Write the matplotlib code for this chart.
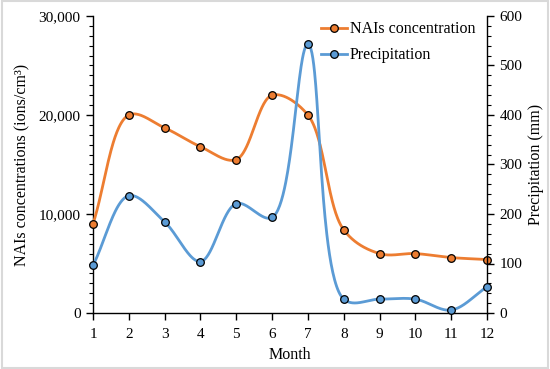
import numpy as np
import matplotlib
matplotlib.use("Agg")
import matplotlib.pyplot as plt
from matplotlib.ticker import MultipleLocator, FuncFormatter
from matplotlib.lines import Line2D

months = [1, 2, 3, 4, 5, 6, 7, 8, 9, 10, 11, 12]
nais = [9000, 20000, 18700, 16800, 15500, 22000, 20000, 8400, 6000, 6000, 5600, 5400]
precip = [96, 237, 184, 104, 221, 193, 543, 28, 28, 28, 6, 53]

ORANGE = "#ED7D31"
BLUE = "#5B9BD5"

plt.rcParams['font.family'] = ['Liberation Serif', 'DejaVu Serif']


def centripetal(x, y, sx, sy, n=60, alpha=0.5):
    """Centripetal Catmull-Rom through the points, computed in pixel-like space."""
    P = np.column_stack([np.asarray(x, float) * sx, np.asarray(y, float) * sy])
    P = np.vstack([2 * P[0] - P[1], P, 2 * P[-1] - P[-2]])
    out = []
    for i in range(1, len(P) - 2):
        p0, p1, p2, p3 = P[i - 1], P[i], P[i + 1], P[i + 2]
        t0 = 0.0
        t1 = t0 + max(np.linalg.norm(p1 - p0), 1e-9) ** alpha
        t2 = t1 + max(np.linalg.norm(p2 - p1), 1e-9) ** alpha
        t3 = t2 + max(np.linalg.norm(p3 - p2), 1e-9) ** alpha
        t = np.linspace(t1, t2, n, endpoint=False)[:, None]
        A1 = (t1 - t) / (t1 - t0) * p0 + (t - t0) / (t1 - t0) * p1
        A2 = (t2 - t) / (t2 - t1) * p1 + (t - t1) / (t2 - t1) * p2
        A3 = (t3 - t) / (t3 - t2) * p2 + (t - t2) / (t3 - t2) * p3
        B1 = (t2 - t) / (t2 - t0) * A1 + (t - t0) / (t2 - t0) * A2
        B2 = (t3 - t) / (t3 - t1) * A2 + (t - t1) / (t3 - t1) * A3
        C = (t2 - t) / (t2 - t1) * B1 + (t - t1) / (t2 - t1) * B2
        out.append(C)
    out.append(P[-2][None, :])
    C = np.vstack(out)
    return C[:, 0] / sx, C[:, 1] / sy


fig = plt.figure(figsize=(5.5, 3.69), dpi=100)
ax = fig.add_axes([93 / 550, 1 - 313 / 369, (487 - 93) / 550, (313 - 16) / 369])
ax2 = ax.twinx()

XS = 394 / 11.0
sx, sy = centripetal(months, nais, XS, 297 / 30000)
ax.plot(sx, sy, color=ORANGE, lw=2, zorder=3, clip_on=False)
ax.plot(months, nais, 'o', color=ORANGE, mec='black', mew=0.9, ms=5.5, zorder=4, clip_on=False)

px_, py_ = centripetal(months, precip, XS, 297 / 600)
ax2.plot(px_, py_, color=BLUE, lw=2, zorder=3, clip_on=False)
ax2.plot(months, precip, 'o', color=BLUE, mec='black', mew=0.9, ms=5.5, zorder=4, clip_on=False)

ax.set_xlim(1, 12)
ax.set_ylim(0, 30000)
ax2.set_ylim(0, 600)
ax.set_xticks(months)

ax.yaxis.set_major_locator(MultipleLocator(10000))
ax.yaxis.set_minor_locator(MultipleLocator(1000))
ax.yaxis.set_major_formatter(FuncFormatter(lambda v, p: f"{int(v):,}"))
ax2.yaxis.set_major_locator(MultipleLocator(100))
ax2.yaxis.set_minor_locator(MultipleLocator(20))

for a in (ax, ax2):
    a.spines['top'].set_visible(False)
    for s in a.spines.values():
        s.set_linewidth(1.0)
ax.spines['right'].set_visible(False)
ax2.spines['left'].set_visible(False)
ax2.spines['bottom'].set_visible(False)

FS = 11
ax.tick_params(axis='x', which='major', direction='out', length=5, width=1, labelsize=FS, pad=6)
ax.tick_params(axis='y', which='major', direction='out', length=5, width=1, labelsize=FS, pad=4)
ax.tick_params(axis='y', which='minor', direction='out', length=3, width=0.8)
ax2.tick_params(axis='y', which='major', direction='out', length=5, width=1, labelsize=FS, pad=4)
ax2.tick_params(axis='y', which='minor', direction='out', length=3, width=0.8)

ax.set_xlabel("Month", fontsize=11.5, labelpad=4)
ax.set_ylabel("NAIs concentrations (ions/cm³)", fontsize=11.5, labelpad=6)
ax2.set_ylabel("Precipitation (mm)", fontsize=11.5, labelpad=4)

handles = [
    Line2D([], [], color=ORANGE, lw=2, marker='o', mfc=ORANGE, mec='black', mew=0.9, ms=5.5),
    Line2D([], [], color=BLUE, lw=2, marker='o', mfc=BLUE, mec='black', mew=0.9, ms=5.5),
]
ax.legend(handles, ["NAIs concentration", "Precipitation"], loc='upper left',
          bbox_to_anchor=(0.543, 1.03), frameon=False, fontsize=11.5,
          handlelength=1.6, handletextpad=0.2, labelspacing=0.62)

fig.patches.append(plt.Rectangle((0.003, 0.004), 0.994, 0.992, transform=fig.transFigure,
                                 fill=False, edgecolor='#d9d9d9', lw=1.5))

fig.savefig("out.png", dpi=100)
